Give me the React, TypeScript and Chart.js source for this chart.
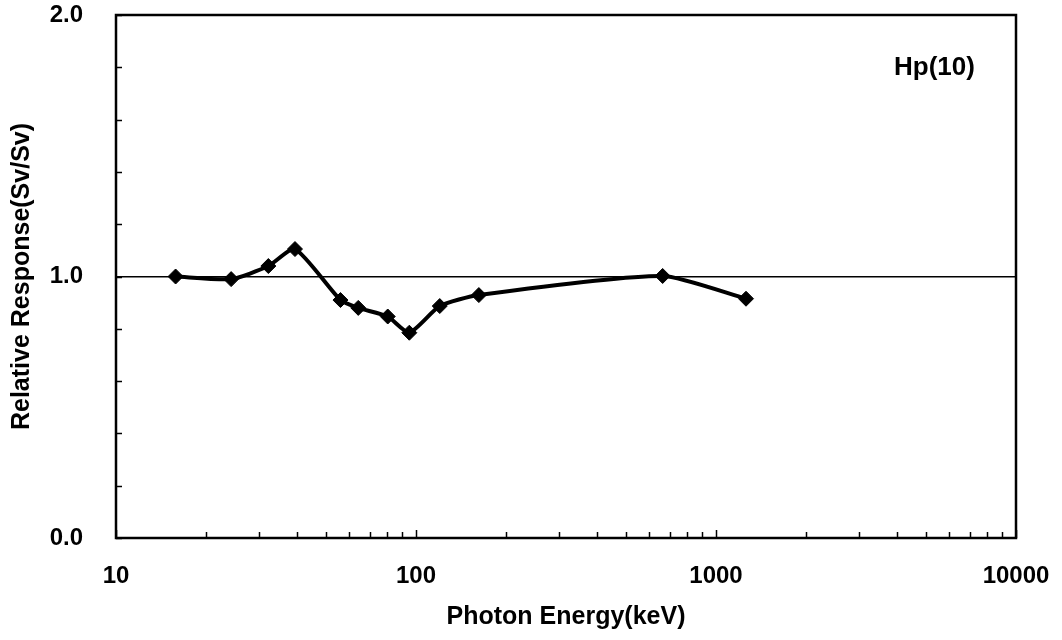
import React, { useEffect, useRef } from 'react';
import { Chart, registerables } from 'chart.js';

Chart.register(...registerables);

// Data
const energies = [15.8, 24.2, 32.2, 39.5, 56, 64.2, 80.5, 95, 120, 162, 664, 1259];
const responses = [1.0, 0.99, 1.04, 1.105, 0.91, 0.88, 0.847, 0.785, 0.887, 0.929, 1.002, 0.915];
const xTickLabels = [10, 100, 1000, 10000];
const yTickLabels = [0, 1, 2];
const referenceLevel = 1.0;
const annotationText = 'Hp(10)';
const xTitle = 'Photon Energy(keV)';
const yTitle = 'Relative Response(Sv/Sv)';

const FONT = "'Liberation Sans', Arial, sans-serif";

const frameAndTicks = {
  id: 'frameAndTicks',
  afterDraw(chart: any) {
    const { ctx, chartArea, scales } = chart;
    const { left, right, top, bottom } = chartArea;
    ctx.save();
    ctx.strokeStyle = '#000';
    // inner tick marks
    ctx.lineWidth = 1.5;
    const xs = scales.x;
    xs.ticks.forEach((t: any) => {
      const px = Math.round(xs.getPixelForValue(t.value)) + 0.5;
      const major = xTickLabels.includes(t.value);
      const len = major ? 8 : 6;
      ctx.beginPath();
      ctx.moveTo(px, bottom);
      ctx.lineTo(px, bottom - len);
      ctx.stroke();
    });
    const ys = scales.y;
    ys.ticks.forEach((t: any) => {
      const py = Math.round(ys.getPixelForValue(t.value)) + 0.5;
      ctx.beginPath();
      ctx.moveTo(left, py);
      ctx.lineTo(left + 6, py);
      ctx.stroke();
    });
    // frame
    ctx.lineWidth = 2.5;
    ctx.strokeRect(left, top, right - left, bottom - top);
    // annotation
    ctx.fillStyle = '#000';
    ctx.font = `bold 26px ${FONT}`;
    ctx.textBaseline = 'middle';
    ctx.textAlign = 'left';
    ctx.fillText(annotationText, right - 122, top + 53);
    ctx.restore();
  },
};

export default function App() {
  const canvasRef = useRef<HTMLCanvasElement>(null);

  useEffect(() => {
    document.body.style.margin = '0';
    const canvas = canvasRef.current;
    if (!canvas) return;
    const chart = new Chart(canvas, {
      type: 'line',
      data: {
        datasets: [
          {
            label: 'Hp(10)',
            data: energies.map((e, i) => ({ x: e, y: responses[i] })),
            borderColor: '#000',
            backgroundColor: '#000',
            borderWidth: 4,
            tension: 0.2,
            pointStyle: 'rectRot',
            pointRadius: 7.5,
            pointBorderWidth: 1,
            pointBackgroundColor: '#000',
            pointBorderColor: '#000',
            fill: false,
          },
        ],
      },
      options: {
        responsive: false,
        animation: false,
        events: [],
        layout: { padding: { top: 15, right: 46, left: 0, bottom: 0 } },
        plugins: {
          legend: { display: false },
          tooltip: { enabled: false },
          title: { display: false },
        },
        scales: {
          x: {
            type: 'logarithmic',
            min: 10,
            max: 10000,
            afterBuildTicks: (scale: any) => {
              const ticks: any[] = [];
              for (let d = 10; d < 10000; d *= 10) {
                for (let m = 1; m <= 9; m++) ticks.push({ value: m * d });
              }
              ticks.push({ value: 10000 });
              scale.ticks = ticks;
            },
            afterFit: (scale: any) => {
              scale.height = 102;
            },
            ticks: {
              autoSkip: false,
              maxRotation: 0,
              minRotation: 0,
              padding: 0,
              color: '#000',
              font: { family: FONT, size: 24, weight: 'bold' },
              callback: (v: any) => (xTickLabels.includes(Number(v)) ? String(v) : ''),
            },
            grid: {
              display: true,
              drawOnChartArea: false,
              drawTicks: true,
              tickLength: 24,
              tickColor: 'rgba(0,0,0,0)',
              color: 'rgba(0,0,0,0)',
            },
            border: { display: false },
            title: {
              display: true,
              text: xTitle,
              color: '#000',
              font: { family: FONT, size: 25, weight: 'bold' },
              padding: { top: 0, bottom: 8 },
            },
          },
          y: {
            type: 'linear',
            min: 0,
            max: 2,
            afterFit: (scale: any) => {
              scale.width = 116;
            },
            ticks: {
              stepSize: 0.2,
              padding: 0,
              color: '#000',
              font: { family: FONT, size: 24, weight: 'bold' },
              callback: (v: any) => {
                const n = Number(v);
                const hit = yTickLabels.find((t) => Math.abs(t - n) < 1e-6);
                return hit !== undefined ? hit.toFixed(1) : '';
              },
            },
            grid: {
              drawTicks: true,
              tickLength: 33,
              tickColor: 'rgba(0,0,0,0)',
              lineWidth: 1.5,
              color: (ctx: any) =>
                ctx.tick && Math.abs(ctx.tick.value - referenceLevel) < 1e-6 ? '#000' : 'rgba(0,0,0,0)',
            },
            border: { display: false },
            title: {
              display: true,
              text: yTitle,
              color: '#000',
              font: { family: FONT, size: 25, weight: 'bold' },
              padding: { top: 7, bottom: 0 },
            },
          },
        },
      },
      plugins: [frameAndTicks],
    });
    return () => chart.destroy();
  }, []);

  return (
    <div style={{ width: 1062, height: 640, background: '#fff' }}>
      <canvas ref={canvasRef} width={1062} height={640} style={{ display: 'block' }} />
    </div>
  );
}
